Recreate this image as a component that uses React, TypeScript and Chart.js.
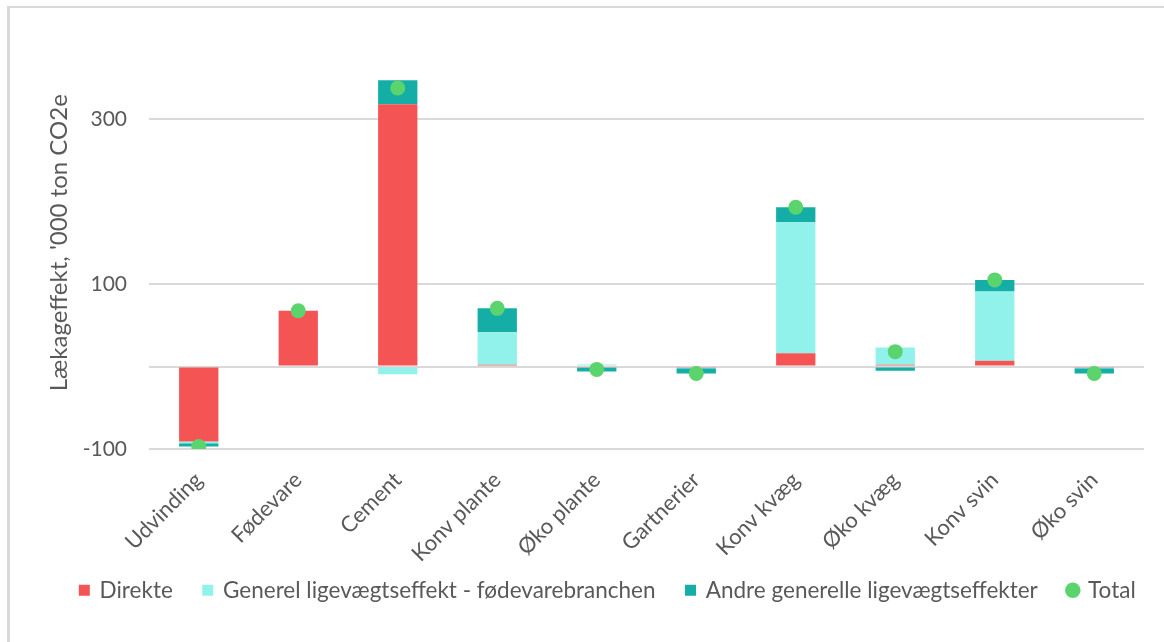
import React, { useEffect, useRef } from "react";
import { Chart, registerables } from "chart.js";

Chart.register(...registerables);

const categories = [
  "Udvinding",
  "Fødevare",
  "Cement",
  "Konv plante",
  "Øko plante",
  "Gartnerier",
  "Konv kvæg",
  "Øko kvæg",
  "Konv svin",
  "Øko svin",
];

const direkte = [-91, 67.5, 318, 2, -1.5, -1.5, 16, 2, 7, -1.5];
const generelFoedevare = [-2, 0, -9.5, 39.5, 2.5, -0.5, 159, 21, 84, -0.5];
const andreGenerelle = [-4, 0, 29, 29, -4.5, -6.5, 18, -5, 14, -6.5];
const total = [-97, 67.5, 337.5, 70.5, -3.5, -8.5, 193, 18, 105, -8.5];

const yGridValues = [-100, 0, 100, 300];
const yHiddenLabels = [0];

const seriesNames = [
  "Direkte",
  "Generel ligevægtseffekt - fødevarebranchen",
  "Andre generelle ligevægtseffekter",
  "Total",
];

const FONT = "Lato";
const TEXT = "#595959";

export default function App() {
  const ref = useRef<HTMLCanvasElement | null>(null);

  useEffect(() => {
    if (!ref.current) return;
    const legendShift = {
      id: "legendShift",
      afterLayout(chart: any) {
        const lg = chart.legend;
        if (lg) {
          lg.left += 36;
          lg.right += 36;
          lg.top -= 24;
          lg.bottom -= 24;
        }
      },
    };
    const chart = new Chart(ref.current, {
      type: "bar",
      data: {
        labels: categories,
        datasets: [
          {
            type: "line",
            label: seriesNames[3],
            data: total,
            showLine: false,
            backgroundColor: "#5CD46E",
            borderColor: "#5CD46E",
            borderWidth: 0,
            pointRadius: 7.5,
            pointStyle: "circle",
            stack: "total",
            order: 0,
          } as any,
          {
            label: seriesNames[0],
            data: direkte,
            backgroundColor: "#F55454",
            pointStyle: "rect",
            stack: "bars",
            order: 1,
          } as any,
          {
            label: seriesNames[1],
            data: generelFoedevare,
            backgroundColor: "#90F2EA",
            pointStyle: "rect",
            stack: "bars",
            order: 1,
          } as any,
          {
            label: seriesNames[2],
            data: andreGenerelle,
            backgroundColor: "#15AEA6",
            pointStyle: "rect",
            stack: "bars",
            order: 1,
          } as any,
        ],
      },
      options: {
        animation: false,
        responsive: false,
        maintainAspectRatio: false,
        layout: { padding: { left: 0, right: 20, top: 36.5, bottom: 6.5 } },
        datasets: {
          bar: { barPercentage: 0.395, categoryPercentage: 1, borderWidth: 0 },
        } as any,
        plugins: {
          tooltip: { enabled: false },
          legend: {
            position: "bottom",
            labels: {
              usePointStyle: true,
              boxWidth: 8,
              boxHeight: 11,
              padding: 31,
              color: TEXT,
              font: { family: FONT, size: 22.5 },
              sort: (a: any, b: any) => {
                const o = (t: string) => seriesNames.indexOf(t);
                return o(a.text) - o(b.text);
              },
            },
          },
        },
        scales: {
          x: {
            stacked: true,
            grid: { display: false },
            border: { display: false },
            ticks: {
              minRotation: 45,
              maxRotation: 45,
              padding: 10,
              color: TEXT,
              font: { family: FONT, size: 22 },
              autoSkip: false,
            },
            afterFit: (s: any) => {
              s.height = 123;
            },
          },
          y: {
            stacked: true,
            min: -100,
            max: 400,
            border: { display: false },
            grid: { color: "#D9D9D9", lineWidth: 2, drawTicks: false },
            ticks: {
              padding: 22,
              color: TEXT,
              font: { family: FONT, size: 21 },
              callback: (v: any) => (yHiddenLabels.includes(Number(v)) ? "" : String(v)),
            },
            afterBuildTicks: (s: any) => {
              s.ticks = yGridValues.map((v) => ({ value: v }));
            },
            afterFit: (s: any) => {
              s.width = 149;
            },
            title: {
              display: true,
              text: "Lækageffekt, '000 ton CO2e",
              color: TEXT,
              font: { family: FONT, size: 24 },
              padding: { top: 45, bottom: 0 },
            },
          },
        },
      },
      plugins: [legendShift],
    } as any);
    return () => chart.destroy();
  }, []);

  return (
    <div
      style={{
        position: "fixed",
        left: 0,
        top: 0,
        width: 1164,
        height: 642,
        background: "#fff",
        overflow: "hidden",
      }}
    >
      <div
        style={{
          position: "absolute",
          left: 7,
          top: 6,
          width: 1300,
          height: 800,
          borderLeft: "3px solid #D9D9D9",
          borderTop: "2px solid #D9D9D9",
        }}
      />
      <canvas
        ref={ref}
        width={1164}
        height={642}
        style={{ position: "absolute", left: 0, top: 0, width: 1164, height: 642 }}
      />
    </div>
  );
}
